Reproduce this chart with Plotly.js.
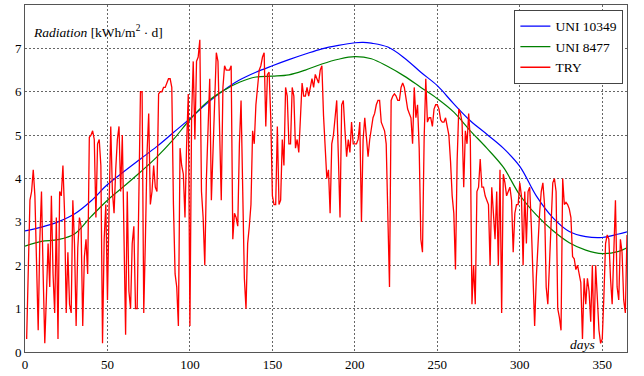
<!DOCTYPE html>
<html>
<head>
<meta charset="utf-8">
<script src="https://cdn.plot.ly/plotly-3.0.1.min.js"></script>
<style>
body{margin:0}
#chart text, #chart tspan{font-family:'Liberation Serif' !important;}
</style>
</head>
<body>
<div id="chart"></div>
<script>
// UNI 10349 (blue)
const uni10349Days = [0,10,20,30,40,50,60,70,80,90,100,110,120,130,140,150,160,170,180,190,200,205,210,220,230,240,250,260,270,280,290,300,310,320,330,340,350,360,365];
const uni10349Vals = [2.79,2.88,3.0,3.18,3.48,3.86,4.16,4.45,4.74,5.06,5.38,5.72,6.02,6.27,6.45,6.6,6.74,6.87,6.99,7.07,7.13,7.14,7.12,7.03,6.78,6.45,6.14,5.72,5.33,5.02,4.7,4.28,3.6,3.1,2.78,2.66,2.64,2.72,2.77];
// UNI 8477 (green)
const uni8477Days = [0,10,20,30,40,50,60,70,80,90,100,110,120,130,140,150,160,170,180,190,200,210,220,230,240,250,260,270,280,290,300,310,320,330,340,350,360,365];
const uni8477Vals = [2.44,2.55,2.59,2.72,3.12,3.5,3.82,4.15,4.5,4.9,5.36,5.75,6.02,6.22,6.34,6.36,6.39,6.5,6.64,6.75,6.81,6.76,6.58,6.36,6.1,5.84,5.53,5.1,4.7,4.26,3.62,3.16,2.8,2.52,2.35,2.27,2.32,2.4];
// TRY daily values, days 1..365
const tryVals = [
0.3,1.7,3.5,3.7,4.2,3.6,1.7,0.5,2.6,3.7,
1.8,0.2,1.3,2.5,1.5,3.6,1.8,0.9,3.1,0.3,
3.7,3.6,4.3,3.2,0.9,2.3,1.1,0.9,3.5,2.5,
0.6,2.4,3.1,2.9,0.6,2.2,2.6,1.8,4.95,5.0,
5.1,4.9,3.1,4.8,4.9,4.3,0.2,2.6,3.4,1.2,
3.4,5.2,3.7,3.2,4.2,4.9,5.2,3.7,5.0,2.6,
0.4,3.7,1.4,1.0,2.5,2.9,1.0,1.0,3.2,6.0,
6.0,0.9,2.6,4.6,5.5,3.4,3.7,4.3,3.8,3.7,
5.95,6.0,6.0,6.1,6.1,6.2,6.3,6.3,6.1,3.4,
1.8,1.5,0.6,4.7,4.3,4.1,3.1,4.8,5.95,0.6,
5.4,6.7,4.9,6.7,6.8,7.2,3.7,3.1,2.0,4.0,
5.2,6.3,3.5,4.5,5.5,6.9,6.7,4.9,3.5,6.1,
6.6,6.5,6.5,6.5,6.6,2.6,3.2,3.1,2.9,4.8,
5.8,3.5,1.7,1.0,2.5,2.9,3.4,5.1,4.8,5.7,
6.2,6.5,6.6,6.8,6.9,5.2,6.4,6.45,5.4,3.6,
3.4,3.4,5.2,3.4,3.5,4.9,4.3,6.1,5.9,4.8,
4.8,6.1,5.9,4.7,4.9,4.6,5.4,6.2,5.9,5.9,
6.1,5.9,6.1,6.3,6.1,6.4,6.3,6.2,6.5,6.6,
5.45,4.8,4.0,4.2,3.2,4.8,5.0,5.4,5.8,4.5,
3.1,5.7,5.8,5.1,4.5,4.9,4.6,5.3,4.8,4.8,
4.8,4.9,5.3,3.0,4.9,5.4,4.9,4.5,4.9,5.2,
5.4,5.5,5.7,5.8,5.8,5.3,5.2,5.1,4.8,3.0,
1.5,5.8,5.9,5.95,5.9,5.8,5.8,6.1,6.2,6.1,
5.8,5.6,5.5,5.4,4.8,6.1,5.4,5.7,4.7,2.6,
2.3,4.9,6.3,5.3,5.4,5.4,5.2,5.6,5.7,5.7,
5.6,5.35,5.3,5.3,5.4,5.15,5.0,4.4,3.6,3.2,
1.9,4.4,5.6,5.5,5.3,3.8,5.1,4.8,5.5,4.9,
1.1,2.0,1.1,3.7,3.8,4.45,3.8,3.8,3.6,3.5,
3.4,2.0,3.8,3.2,2.6,3.7,2.0,4.2,0.9,4.1,
3.9,3.6,3.7,3.8,3.5,2.3,3.2,3.4,3.4,3.9,
3.6,2.0,3.7,2.5,3.7,3.8,2.9,1.7,0.6,1.7,
2.6,3.2,3.7,3.9,3.4,1.5,1.1,2.2,3.2,3.9,
4.0,3.7,1.0,0.8,0.5,4.0,3.4,3.45,3.4,3.3,
3.1,2.2,2.15,1.9,2.0,1.8,1.6,0.3,1.7,1.1,
1.7,1.4,0.7,2.0,0.3,2.0,1.2,0.5,0.2,0.3,
1.3,2.5,2.7,2.6,1.7,1.1,2.3,3.5,1.5,1.2,
2.6,2.3,1.2,0.9,2.7
];
const tryDays = tryVals.map((v, i) => i + 1);
const xTicks = [0,50,100,150,200,250,300,350];
const yTicks = [0,1,2,3,4,5,6,7,8];

const FONT_FAMILY = 'Liberation Serif';
const traces = [
  {x: uni10349Days, y: uni10349Vals, name: 'UNI 10349', mode: 'lines', line: {color: '#0000ff', width: 1.2, shape: 'spline', smoothing: 1}},
  {x: uni8477Days, y: uni8477Vals, name: 'UNI 8477', mode: 'lines', line: {color: '#008000', width: 1.2, shape: 'spline', smoothing: 1}},
  {x: tryDays, y: tryVals, name: 'TRY', mode: 'lines', line: {color: '#ff0000', width: 1.3}}
];
function axis(range, ticks) {
  return {
    range: range, tickvals: ticks, ticktext: ticks.map(String),
    showgrid: true, gridcolor: '#666', griddash: '2px,2px', gridwidth: 1,
    zeroline: false, showline: true, mirror: true, linecolor: '#555', linewidth: 1,
    ticks: '', tickfont: {family: FONT_FAMILY, size: 13, color: '#000'}
  };
}
const layout = {
  width: 644, height: 376,
  margin: {l: 25, r: 17, t: 5, b: 24},
  paper_bgcolor: '#fff', plot_bgcolor: '#fff',
  font: {family: FONT_FAMILY, size: 13, color: '#000'},
  xaxis: axis([0, 365], xTicks),
  yaxis: axis([0, 8], yTicks),
  showlegend: true,
  legend: {x: 0.994, xanchor: 'right', y: 0.986, yanchor: 'top', bgcolor: '#fff', bordercolor: '#444', borderwidth: 1,
           font: {family: FONT_FAMILY, size: 13.5, color: '#000'}, tracegroupgap: 0},
  annotations: [
    {xref: 'paper', yref: 'paper', x: 0.0106, y: 0.925, xanchor: 'left', yanchor: 'middle', showarrow: false,
     text: '<i>Radiation</i> [kWh/m<sup>2</sup> \u00B7 d]', font: {family: FONT_FAMILY, size: 13.5, color: '#000'}},
    {xref: 'paper', yref: 'paper', x: 0.95, y: 0.022, xanchor: 'right', yanchor: 'middle', showarrow: false,
     text: '<i>days</i>', font: {family: FONT_FAMILY, size: 13.5, color: '#000'}}
  ]
};
Plotly.newPlot('chart', traces, layout, {staticPlot: true});
</script>
</body>
</html>
